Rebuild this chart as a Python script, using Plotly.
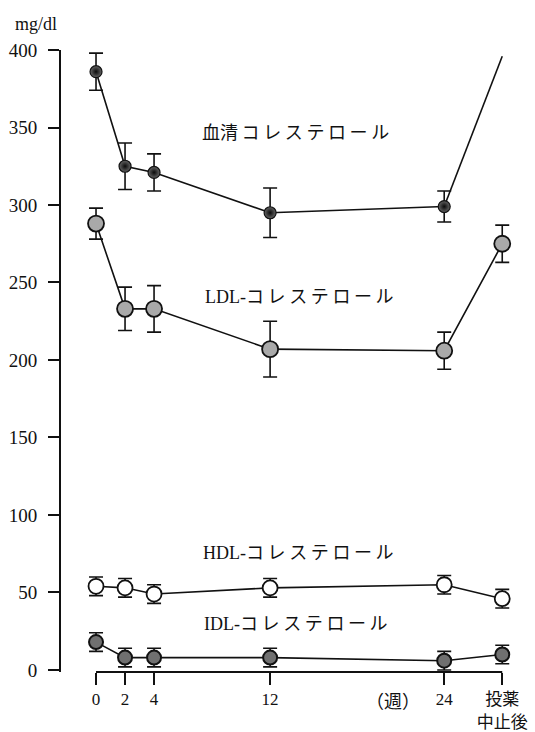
import plotly.graph_objects as go

# Measurement time points (weeks); the last position is the post-withdrawal value
weeks = [0, 2, 4, 12, 24, 28]
tick_text = ["0", "2", "4", "12", "24", "投薬<br>中止後"]

# Serum lipid levels (mg/dl), mean and SD
serum = [386, 325, 321, 295, 299, 396]
serum_sd = [12, 15, 12, 16, 10]
ldl = [288, 233, 233, 207, 206, 275]
ldl_sd = [10, 14, 15, 18, 12, 12]
hdl = [54, 53, 49, 53, 55, 46]
hdl_sd = [6, 6, 6, 6, 6, 6]
idl = [18, 8, 8, 8, 6, 10]
idl_sd = [6, 6, 6, 6, 6, 6]

y_ticks = list(range(0, 401, 50))

LINE = dict(color="#111111", width=1.6)
SERIF = "Liberation Serif, DejaVu Serif, serif"
JP = "Liberation Serif, Noto Sans CJK JP, serif"
CJK = "Noto Sans CJK JP, sans-serif"


def err(values):
    return dict(type="data", array=values, visible=True, color="#111111",
                thickness=1.6, width=7)


fig = go.Figure()

# serum cholesterol: measured points through week 24, then the line to withdrawal
fig.add_trace(go.Scatter(
    x=weeks[4:], y=serum[4:], mode="lines", line=LINE, cliponaxis=False,
    showlegend=False, hoverinfo="skip"))
fig.add_trace(go.Scatter(
    x=weeks[:5], y=serum[:5], mode="lines+markers", line=LINE, cliponaxis=False,
    error_y=err(serum_sd),
    marker=dict(size=12, color="#666666",
                gradient=dict(type="radial", color="#0a0a0a"),
                line=dict(color="#111111", width=1.2)),
    showlegend=False))

fig.add_trace(go.Scatter(
    x=weeks, y=ldl, mode="lines+markers", line=LINE, cliponaxis=False,
    error_y=err(ldl_sd),
    marker=dict(size=16, color="#a9a9a9", line=dict(color="#111111", width=1.8)),
    showlegend=False))

fig.add_trace(go.Scatter(
    x=weeks, y=hdl, mode="lines+markers", line=LINE, cliponaxis=False,
    error_y=err(hdl_sd),
    marker=dict(size=15, color="#ffffff", line=dict(color="#111111", width=1.8)),
    showlegend=False))

fig.add_trace(go.Scatter(
    x=weeks, y=idl, mode="lines+markers", line=LINE, cliponaxis=False,
    error_y=err(idl_sd),
    marker=dict(size=14, color="#707070", line=dict(color="#111111", width=2)),
    showlegend=False))

# series labels
labels = [
    ("血清\u2009コ\u2009レ\u2009ス\u2009テ\u2009ロ\u2009ー\u2009ル", 295, 133),
    ("LDL-コ\u2009レ\u2009ス\u2009テ\u2009ロ\u2009ー\u2009ル", 299, 297),
    ("HDL-コ\u2009レ\u2009ス\u2009テ\u2009ロ\u2009ー\u2009ル", 298, 553),
    ("IDL-コ\u2009レ\u2009ス\u2009テ\u2009ロ\u2009ー\u2009ル", 296, 624),
]
W, H = 535, 732
L, R, T, B = 61, 11, 50, 60
annotations = []
for text, px, py in labels:
    annotations.append(dict(
        text=text, xref="paper", yref="paper",
        x=(px - L) / (W - L - R), y=1 - (py - T) / (H - T - B),
        showarrow=False, xanchor="center", yanchor="middle",
        font=dict(family=JP, size=18, color="#111111")))

annotations.append(dict(
    text="mg/dl", xref="paper", yref="paper",
    x=(36 - L) / (W - L - R), y=1 - (24 - T) / (H - T - B),
    showarrow=False, xanchor="center", yanchor="middle",
    font=dict(family=SERIF, size=18, color="#111111")))
annotations.append(dict(
    text="（週）", xref="paper", yref="paper",
    x=(393 - L) / (W - L - R), y=1 - (700 - T) / (H - T - B),
    showarrow=False, xanchor="center", yanchor="middle",
    font=dict(family=CJK, size=18, color="#111111")))

fig.update_layout(
    width=W, height=H,
    margin=dict(l=L, r=R, t=T, b=B, autoexpand=False),
    paper_bgcolor="white", plot_bgcolor="white",
    annotations=annotations,
    shapes=[dict(type="line", xref="x", yref="paper", x0=0, x1=28, y0=0, y1=0,
                 line=dict(color="#111111", width=1.8))],
    xaxis=dict(range=[-2.414, 29.5], showgrid=False, zeroline=False,
               automargin=False,
               showline=False, tickmode="array", tickvals=weeks,
               ticktext=tick_text, ticks="outside", ticklen=12,
               tickwidth=1.6, tickcolor="#111111", ticklabelstandoff=0,
               tickfont=dict(family=JP, size=17, color="#111111")),
    yaxis=dict(range=[-1.3, 400], showgrid=False, zeroline=False,
               automargin=False,
               showline=True, linecolor="#111111", linewidth=2,
               tickmode="array", tickvals=y_ticks, ticks="outside",
               ticklen=11, tickwidth=1.6, tickcolor="#111111",
               ticklabelstandoff=7,
               tickfont=dict(family=SERIF, size=19, color="#111111")),
)

fig.write_html("out.html")
